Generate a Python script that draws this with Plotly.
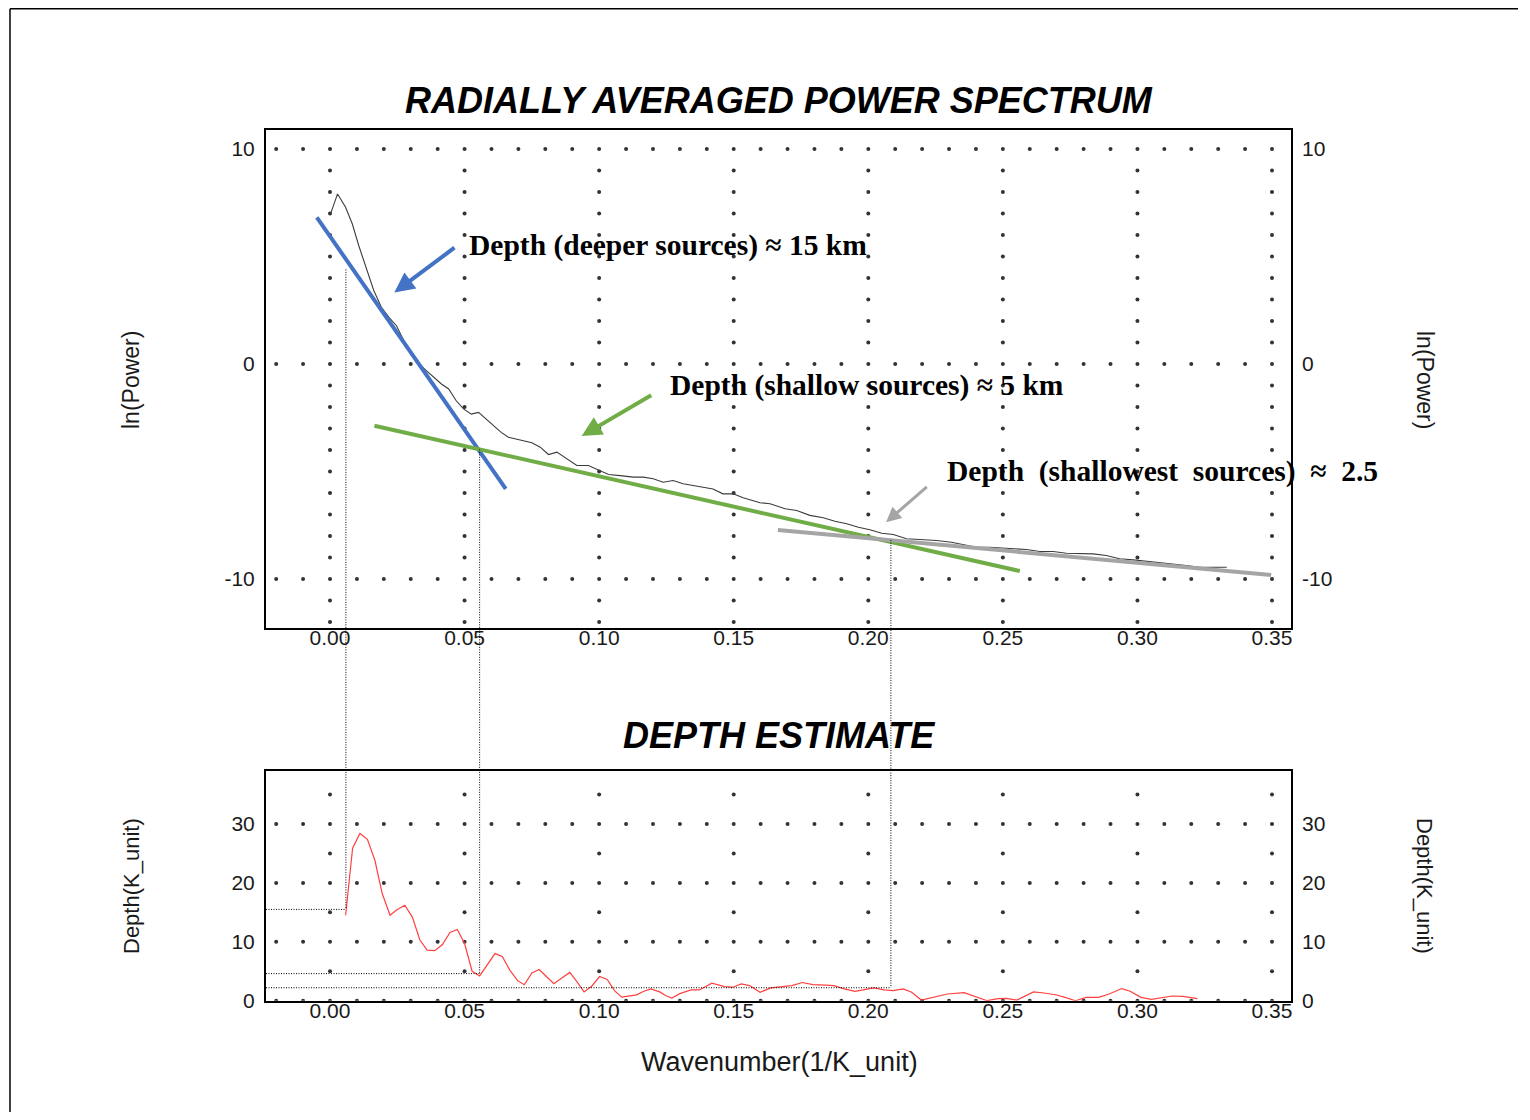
import plotly.graph_objects as go

# ---------------- data ----------------
k_power = [0.0003, 0.0028, 0.0058, 0.0083, 0.0107, 0.0136, 0.0163, 0.0191, 0.0219, 0.0247,
           0.0274, 0.0302, 0.0330, 0.0358, 0.0385, 0.0414, 0.0441, 0.0469, 0.0496, 0.0525,
           0.0552, 0.0580, 0.0607, 0.0636, 0.0663, 0.0691, 0.0722, 0.0750, 0.0781, 0.0812,
           0.0843, 0.0880, 0.0917, 0.0960, 0.0998, 0.1035, 0.1078, 0.1127, 0.1164, 0.1201,
           0.1238, 0.1275, 0.1312, 0.1349, 0.1386, 0.1423, 0.1460, 0.1498, 0.1535, 0.1572,
           0.1598, 0.1635, 0.1670, 0.1691, 0.1734, 0.1783, 0.1833, 0.1876, 0.1920, 0.1963,
           0.2006, 0.2050, 0.2093, 0.2142, 0.2192, 0.2254, 0.2309, 0.2353, 0.2402, 0.2452,
           0.2501, 0.2538, 0.2588, 0.2637, 0.2687, 0.2736, 0.2786, 0.2835, 0.2884, 0.2934,
           0.2984, 0.3033, 0.3083, 0.3132, 0.3182, 0.3231, 0.3281, 0.3332]
ln_power = [7.02, 7.91, 7.29, 6.51, 5.50, 4.42, 3.41, 2.64, 2.17, 1.78,
            1.09, 0.47, 0.03, -0.31, -0.62, -0.93, -1.16, -1.71, -2.09, -2.33,
            -2.25, -2.56, -2.87, -3.18, -3.41, -3.49, -3.60, -3.66, -3.87, -4.21,
            -4.10, -4.41, -4.72, -4.72, -4.92, -5.14, -5.19, -5.26, -5.26, -5.34,
            -5.50, -5.42, -5.57, -5.65, -5.73, -5.81, -6.04, -6.04, -6.22, -6.35,
            -6.45, -6.50, -6.66, -6.73, -6.81, -7.04, -7.15, -7.31, -7.43, -7.59,
            -7.71, -7.87, -7.93, -8.13, -8.16, -8.21, -8.29, -8.40, -8.52, -8.52,
            -8.57, -8.60, -8.63, -8.72, -8.72, -8.80, -8.80, -8.83, -8.91, -9.06,
            -9.11, -9.17, -9.22, -9.30, -9.37, -9.45, -9.45, -9.45]

k_depth = [0.0058, 0.0084, 0.0111, 0.0139, 0.0167, 0.0194, 0.0223, 0.0250, 0.0278, 0.0306,
           0.0334, 0.0361, 0.0389, 0.0417, 0.0446, 0.0473, 0.0500, 0.0528, 0.0556, 0.0584,
           0.0613, 0.0640, 0.0668, 0.0697, 0.0722, 0.0750, 0.0777, 0.0804, 0.0832, 0.0860,
           0.0891, 0.0918, 0.0944, 0.0973, 0.1002, 0.1030, 0.1057, 0.1084, 0.1112, 0.1139,
           0.1166, 0.1192, 0.1225, 0.1250, 0.1270, 0.1300, 0.1341, 0.1372, 0.1419, 0.1466,
           0.1497, 0.1528, 0.1559, 0.1598, 0.1638, 0.1677, 0.1716, 0.1755, 0.1794, 0.1841,
           0.1872, 0.1911, 0.1950, 0.1981, 0.2020, 0.2059, 0.2091, 0.2130, 0.2161, 0.2197,
           0.2247, 0.2294, 0.2356, 0.2395, 0.2442, 0.2481, 0.2513, 0.2552, 0.2614, 0.2653,
           0.2700, 0.2731, 0.2770, 0.2809, 0.2856, 0.2895, 0.2942, 0.2973, 0.3013, 0.3052,
           0.3091, 0.3130, 0.3169, 0.3223]
depth = [14.5, 25.9, 28.4, 27.4, 23.8, 18.2, 14.5, 15.5, 16.2, 14.2,
         10.3, 8.6, 8.5, 9.5, 11.6, 12.1, 9.7, 5.0, 4.2, 6.0,
         8.0, 7.5, 5.2, 3.4, 2.7, 4.7, 5.3, 4.1, 2.9, 3.8,
         4.8, 3.2, 1.5, 2.5, 4.1, 3.6, 1.7, 0.6, 0.8, 1.0,
         1.6, 2.0, 1.5, 0.8, 0.46, 1.2, 1.83, 1.83, 2.97, 2.4,
         2.29, 2.86, 2.57, 1.43, 2.17, 2.4, 2.57, 3.09, 2.74, 2.63,
         2.57, 2.0, 1.6, 1.83, 2.17, 1.83, 1.71, 2.0, 1.43, 0.11,
         0.69, 1.14, 1.37, 0.69, 0.0, 0.34, 0.4, 0.11, 1.49, 1.31,
         0.97, 0.57, 0.0, 0.57, 0.57, 1.14, 2.06, 1.6, 0.57, 0.23,
         0.46, 0.8, 0.74, 0.34]

# straight-line fits
fit_deep_k = [-0.0049, 0.0653]
fit_deep_lnp = [6.82, -5.81]
fit_shallow_k = [0.0165, 0.2563]
fit_shallow_lnp = [-2.87, -9.63]
fit_shallowest_k = [0.1664, 0.3497]
fit_shallowest_lnp = [-7.72, -9.81]

# break points (dotted guide lines)
break_k = [0.0059, 0.0556, 0.2084]
break_lnp = [4.4, -3.97, -8.19]
break_depth = [15.5, 4.6, 2.2]

# annotation labels: text, text anchor (k, lnP), arrow tip (k, lnP), arrow tail (k, lnP)
labels = ["Depth (deeper sources) \u2248 15 km",
          "Depth (shallow sources) \u2248 5 km",
          "Depth&nbsp;&nbsp;(shallowest&nbsp;&nbsp;sources)&nbsp;&nbsp;\u2248&nbsp;&nbsp;2.5"]
label_k = [0.0509, 0.1256, 0.2285]
label_lnp = [5.49, -1.02, -4.98]
arrow_tip_k = [0.0239, 0.0935, 0.2066]
arrow_tip_lnp = [3.33, -3.35, -7.36]
arrow_tail_k = [0.0468, 0.1199, 0.2223]
arrow_tail_lnp = [5.46, -1.41, -5.66]

x_ticks = [0.00, 0.05, 0.10, 0.15, 0.20, 0.25, 0.30, 0.35]
x_ticktext = ["0.00", "0.05", "0.10", "0.15", "0.20", "0.25", "0.30", "0.35"]
top_y_ticks = [-10, 0, 10]
top_y_ticktext = ["-10", "0", "10"]
bot_y_ticks = [0, 10, 20, 30]
bot_y_ticktext = ["0", "10", "20", "30"]

# ---------------- layout geometry ----------------
# the page body has an 8px margin, so the figure is placed at (8, 8)
OFF = 8
W, H = 1530 - 2 * OFF, 1120 - 2 * OFF


def px_x(px):
    return (px - OFF) / W


def px_y(py):
    return 1 - (py - OFF) / H


x_range = [-0.02378, 0.35706]
top_range = [-12.279, 10.884]
bot_range = [0.0, 39.0]
x_dom = [px_x(266), px_x(1291)]
top_dom = [px_y(628), px_y(130)]
bot_dom = [px_y(1000.7), px_y(771)]

BLUE = "#4472C4"
GREEN = "#70AD47"
GRAY = "#A5A5A5"
TICKFONT = dict(family="Arial, Liberation Sans, sans-serif", size=21, color="#1a1a1a")


def to_paper(v, rng, dom):
    return dom[0] + (v - rng[0]) / (rng[1] - rng[0]) * (dom[1] - dom[0])


def dot_grid(row_vals, col_step, col_lo, col_hi):
    xs, ys = [], []
    n = int(round((0.35 - (-0.02)) / 0.01))
    for r in row_vals:
        for i in range(n + 1):
            xs.append(-0.02 + i * 0.01)
            ys.append(r)
    nv = int(round((col_hi - col_lo) / col_step))
    for c in x_ticks:
        for j in range(nv + 1):
            v = col_lo + j * col_step
            if v in row_vals:
                continue
            xs.append(c)
            ys.append(v)
    return xs, ys


fig = go.Figure()

gx, gy = dot_grid(top_y_ticks, 1, -12, 10)
fig.add_trace(go.Scatter(x=gx, y=gy, mode="markers", xaxis="x", yaxis="y",
                         marker=dict(size=4, color="#333333"), hoverinfo="skip"))
gx2, gy2 = dot_grid(bot_y_ticks, 5, 0, 35)
fig.add_trace(go.Scatter(x=gx2, y=gy2, mode="markers", xaxis="x2", yaxis="y2",
                         marker=dict(size=4, color="#333333"), hoverinfo="skip"))

# power spectrum
fig.add_trace(go.Scatter(x=k_power, y=ln_power, mode="lines", xaxis="x", yaxis="y",
                         line=dict(color="#3c3c3c", width=1.1)))
# fits
fig.add_trace(go.Scatter(x=fit_deep_k, y=fit_deep_lnp, mode="lines", xaxis="x", yaxis="y",
                         line=dict(color=BLUE, width=4)))
fig.add_trace(go.Scatter(x=fit_shallow_k, y=fit_shallow_lnp, mode="lines", xaxis="x", yaxis="y",
                         line=dict(color=GREEN, width=4)))
fig.add_trace(go.Scatter(x=fit_shallowest_k, y=fit_shallowest_lnp, mode="lines", xaxis="x", yaxis="y",
                         line=dict(color=GRAY, width=4)))
# depth estimate
fig.add_trace(go.Scatter(x=k_depth, y=depth, mode="lines", xaxis="x2", yaxis="y2",
                         line=dict(color="#FF4040", width=1.2)))
# dummies for the right-hand axes
fig.add_trace(go.Scatter(x=[None], y=[None], xaxis="x", yaxis="y3", showlegend=False))
fig.add_trace(go.Scatter(x=[None], y=[None], xaxis="x2", yaxis="y4", showlegend=False))

shapes = []
DOT = "1px,1.5px"
for kb, lp, dp in zip(break_k, break_lnp, break_depth):
    shapes.append(dict(type="line", xref="x", yref="paper", x0=kb, x1=kb,
                       y0=to_paper(lp, top_range, top_dom), y1=to_paper(dp, bot_range, bot_dom),
                       line=dict(color="black", width=1, dash=DOT), layer="above"))
    shapes.append(dict(type="line", xref="x2", yref="y2", x0=x_range[0], x1=kb, y0=dp, y1=dp,
                       line=dict(color="black", width=1, dash=DOT), layer="above"))
# page border (top and left)
shapes.append(dict(type="line", xref="paper", yref="paper", x0=px_x(10), x1=px_x(1518),
                   y0=1 - 0.8 / H, y1=1 - 0.8 / H, line=dict(color="black", width=1.5)))
shapes.append(dict(type="line", xref="paper", yref="paper", x0=px_x(10), x1=px_x(10),
                   y0=1 - 0.8 / H, y1=0, line=dict(color="black", width=1.5)))

annotations = []
TITLEFONT = dict(family="Liberation Sans, Arial, sans-serif", size=36, color="black",
                 weight="bold", style="italic")
annotations.append(dict(text="RADIALLY AVERAGED POWER SPECTRUM", xref="paper", yref="paper",
                        x=px_x(779), y=px_y(101), showarrow=False, font=TITLEFONT,
                        xanchor="center", yanchor="middle"))
annotations.append(dict(text="DEPTH ESTIMATE", xref="paper", yref="paper",
                        x=px_x(779), y=px_y(735), showarrow=False, font=TITLEFONT,
                        xanchor="center", yanchor="middle"))
for txt, yy, sz in [("ln(Power)", 380, 23), ("Depth(K_unit)", 886, 22)]:
    f = dict(family="Arial, Liberation Sans, sans-serif", size=sz, color="#1a1a1a")
    annotations.append(dict(text=txt, xref="paper", yref="paper", x=px_x(131), y=px_y(yy),
                            showarrow=False, textangle=-90, font=f,
                            xanchor="center", yanchor="middle"))
    annotations.append(dict(text=txt, xref="paper", yref="paper", x=px_x(1425), y=px_y(yy),
                            showarrow=False, textangle=90, font=f,
                            xanchor="center", yanchor="middle"))
annotations.append(dict(text="Wavenumber(1/K_unit)", xref="paper", yref="paper",
                        x=px_x(779), y=px_y(1062), showarrow=False,
                        font=dict(family="Arial, Liberation Sans, sans-serif", size=27, color="#1a1a1a"),
                        xanchor="center", yanchor="middle"))

arrow_cols = [BLUE, GREEN, GRAY]
arrow_w = [4, 4, 3]
for i in range(3):
    annotations.append(dict(text="<b>" + labels[i] + "</b>", xref="x", yref="y",
                            x=label_k[i], y=label_lnp[i], showarrow=False,
                            xanchor="left", yanchor="middle",
                            font=dict(family="Liberation Serif, Times New Roman, serif",
                                      size=29.5, color="black")))
    annotations.append(dict(text="", xref="x", yref="y", axref="x", ayref="y",
                            x=arrow_tip_k[i], y=arrow_tip_lnp[i],
                            ax=arrow_tail_k[i], ay=arrow_tail_lnp[i],
                            showarrow=True, arrowhead=2, arrowsize=1,
                            arrowwidth=arrow_w[i], arrowcolor=arrow_cols[i], standoff=0))

xaxis_common = dict(range=x_range, domain=x_dom, tickvals=x_ticks, ticktext=x_ticktext,
                    showgrid=False, zeroline=False, showline=True, mirror=True,
                    linecolor="black", linewidth=2, ticks="", tickfont=TICKFONT,
                    automargin=False, ticklabelstandoff=-10)
yaxis_common = dict(showgrid=False, zeroline=False, showline=True, mirror=True,
                    linecolor="black", linewidth=2, ticks="", tickfont=TICKFONT,
                    automargin=False, ticklabelstandoff=5)
yright_common = dict(showgrid=False, zeroline=False, showline=False, ticks="",
                     tickfont=TICKFONT, automargin=False, ticklabelstandoff=10, side="right")

fig.update_layout(
    width=W, height=H, autosize=False,
    margin=dict(l=0, r=0, t=0, b=0, pad=0),
    paper_bgcolor="white", plot_bgcolor="white",
    showlegend=False,
    xaxis=dict(anchor="y", **xaxis_common),
    xaxis2=dict(anchor="y2", matches="x", **xaxis_common),
    yaxis=dict(anchor="x", domain=top_dom, range=top_range, tickvals=top_y_ticks,
               ticktext=top_y_ticktext, **yaxis_common),
    yaxis2=dict(anchor="x2", domain=bot_dom, range=bot_range, tickvals=bot_y_ticks,
                ticktext=bot_y_ticktext, **yaxis_common),
    yaxis3=dict(anchor="x", overlaying="y", range=top_range, tickvals=top_y_ticks,
                ticktext=top_y_ticktext, **yright_common),
    yaxis4=dict(anchor="x2", overlaying="y2", range=bot_range, tickvals=bot_y_ticks,
                ticktext=bot_y_ticktext, **yright_common),
    shapes=shapes,
    annotations=annotations,
)

fig.write_html("out.html")
